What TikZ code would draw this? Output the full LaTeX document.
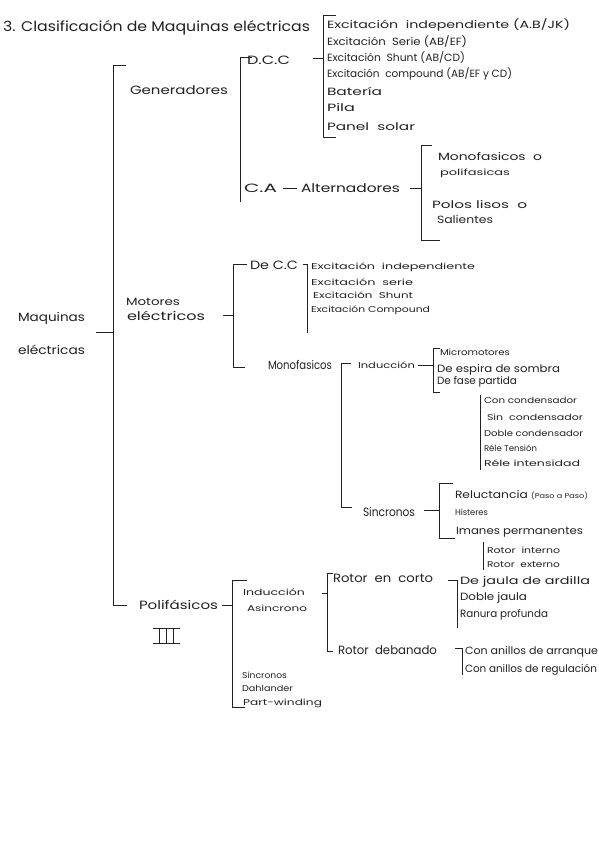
\documentclass[tikz,border=0pt]{standalone}
\usepackage{fontspec}
\setmainfont{Poppins}
\usepackage{graphicx}
\definecolor{ink}{HTML}{222222}
\newcommand\fw[2]{\resizebox{#1pt}{\height}{#2}}
\begin{document}
\begin{tikzpicture}[x=1pt,y=-1pt,
  every node/.style={inner sep=0pt,outer sep=0pt,anchor=west,text=ink},
  T/.style={font=\fontsize{14}{14}\selectfont},
  L/.style={font=\fontsize{12}{12}\selectfont},
  M/.style={font=\fontsize{10.5}{10.5}\selectfont},
  S/.style={font=\fontsize{8.5}{8.5}\selectfont},
  br/.style={draw=ink,line width=0.8pt}]
\fill[white] (0,0) rectangle (599,848);
\useasboundingbox (0,0) rectangle (599,848);

% title
\node[T] (title) at (3,28) {\fw{307}{3. Clasificación de Maquinas eléctricas}};

% root
\node[L] (maq1) at (18,318) {\fw{67}{Maquinas}};
\node[L] (maq2) at (18,350) {\fw{67}{eléctricas}};
\draw[br] (96,332) -- (113,332);
\draw[br] (126,65) -- (113,65) -- (113,605) -- (127,605);

% Generadores
\node[L] (gen) at (130,90) {\fw{98}{Generadores}};
\draw[br] (252,57) -- (240,57) -- (240,202);
\node[L] (dcc) at (247,60) {\fw{43}{D.C.C}};
\draw[br] (313,58) -- (323,58);
\draw[br] (336,15) -- (323,15) -- (323,137) -- (336,137);
\node[M] (g1) at (327,25) {\fw{243}{Excitación\ \ independiente (A.B/JK)}};
\node[M] (g2) at (327,42) {\fw{140}{Excitación\ \ Serie (AB/EF)}};
\node[M] (g3) at (327,58) {\fw{138}{Excitación\ \ Shunt (AB/CD)}};
\node[M] (g4) at (327,74) {\fw{185}{Excitación\ \ compound (AB/EF y CD)}};
\node[M] (g5) at (327,91) {\fw{55}{Batería}};
\node[M] (g6) at (327,108) {\fw{28}{Pila}};
\node[M] (g7) at (327,127) {\fw{88}{Panel\ \ solar}};

\node[L] (ca) at (244,188) {\fw{33}{C.A}};
\node[L] (alt) at (301,188) {\fw{99}{Alternadores}};
\draw[br] (283,188) -- (297,188);
\draw[br] (410,188) -- (421,188);
\draw[br] (432,145) -- (421,145) -- (421,240) -- (440,240);
\node[M] (a1) at (438,157) {\fw{104}{Monofasicos\ \ o}};
\node[S] (a2) at (440,173) {\fw{70}{polifasicas}};
\node[M] (a3) at (432,205) {\fw{95}{Polos lisos\ \ o}};
\node[M] (a4) at (437,220) {\fw{56}{Salientes}};

% Motores
\node[M] (mot1) at (126,302) {\fw{54}{Motores}};
\node[L] (mot2) at (127,316) {\fw{78}{eléctricos}};
\draw[br] (223,315) -- (233,315);
\draw[br] (247,264) -- (233,264) -- (233,367) -- (245,367);
\node[L] (decc) at (250,265) {\fw{48}{De C.C}};
\draw[br] (303,264) -- (307,264) -- (307,333);
\node[S] (m1) at (311,267) {\fw{164}{Excitación\ \ independiente}};
\node[S] (m2) at (311,282) {\fw{102}{Excitación\ \ serie}};
\node[S] (m3) at (313,295) {\fw{100}{Excitación\ \ Shunt}};
\node[S] (m4) at (311,310) {\fw{119}{Excitación Compound}};

\node[L] (mono) at (268,365) {\fw{64}{Monofasicos}};
\draw[br] (351,363) -- (341,363) -- (341,507) -- (352,507);
\node[S] (ind) at (358,365) {\fw{57}{Inducción}};
\draw[br] (418,365) -- (433,365);
\draw[br] (440,348) -- (433,348) -- (433,392) -- (440,392);
\node[S] (i1) at (440,352) {\fw{70}{Micromotores}};
\node[M] (i2) at (437,370) {\fw{123}{De espira de sombra}};
\node[M] (i3) at (437,382) {\fw{80}{De fase partida}};
\draw[br] (480,395) -- (480,470);
\node[S] (f1) at (484,400) {\fw{93}{Con condensador}};
\node[S] (f2) at (487,417) {\fw{96}{Sin\ \ condensador}};
\node[S] (f3) at (484,433) {\fw{99}{Doble condensador}};
\node[S] (f4) at (484,448) {\fw{53}{Réle Tensión}};
\node[S] (f5) at (484,463) {\fw{96}{Réle intensidad}};

\node[L] (sinc) at (363,512) {\fw{52}{Sincronos}};
\draw[br] (424,510) -- (439,510);
\draw[br] (453,483) -- (439,483) -- (439,538) -- (455,538);
\node[M] (s1) at (455,495) {\fw{133}{Reluctancia {\fontsize{7}{7}\selectfont(Paso a Paso)}}};
\node[S] (s2) at (455,512) {\fw{33}{Histeres}};
\node[M] (s3) at (456,532) {\fw{127}{Imanes permanentes}};
\draw[br] (483,542) -- (483,570);
\node[S] (s4) at (487,550) {\fw{73}{Rotor\ \ interno}};
\node[S] (s5) at (487,565) {\fw{73}{Rotor\ \ externo}};

% Polifasicos
\node[L] (poli) at (139,605) {\fw{79}{Polifásicos}};
\draw[br] (222,605) -- (232,605);
\draw[br] (153,628) -- (180,628);
\draw[br] (153,643) -- (180,643);
\draw[br] (159,628) -- (159,643);
\draw[br] (166,628) -- (166,643);
\draw[br] (173,628) -- (173,643);
\draw[br] (247,580) -- (232,580) -- (232,707) -- (245,707);
\node[S] (p1) at (243,592) {\fw{62}{Inducción}};
\node[S] (p2) at (247,608) {\fw{60}{Asincrono}};
\node[S] (p3) at (242,675) {\fw{45}{Sincronos}};
\node[S] (p4) at (242,688) {\fw{51}{Dahlander}};
\node[S] (p5) at (243,703) {\fw{79}{Part-winding}};

\draw[br] (322,593) -- (327,593);
\draw[br] (333,573) -- (327,573) -- (327,651) -- (333,651);
\node[L] (rc) at (333,578) {\fw{100}{Rotor\ \ en\ \ corto}};
\node[L] (rd) at (338,650) {\fw{99}{Rotor\ \ debanado}};
\draw[br] (448,580) -- (457,580) -- (457,628);
\node[M] (r1) at (460,582) {\fw{130}{De jaula de ardilla}};
\node[M] (r2) at (460,598) {\fw{67}{Doble jaula}};
\node[M] (r3) at (460,615) {\fw{88}{Ranura profunda}};
\draw[br] (455,648) -- (462,648) -- (462,675);
\node[M] (r4) at (465,652) {\fw{133}{Con anillos de arranque}};
\node[M] (r5) at (465,670) {\fw{132}{Con anillos de regulación}};
\end{tikzpicture}
\end{document}
